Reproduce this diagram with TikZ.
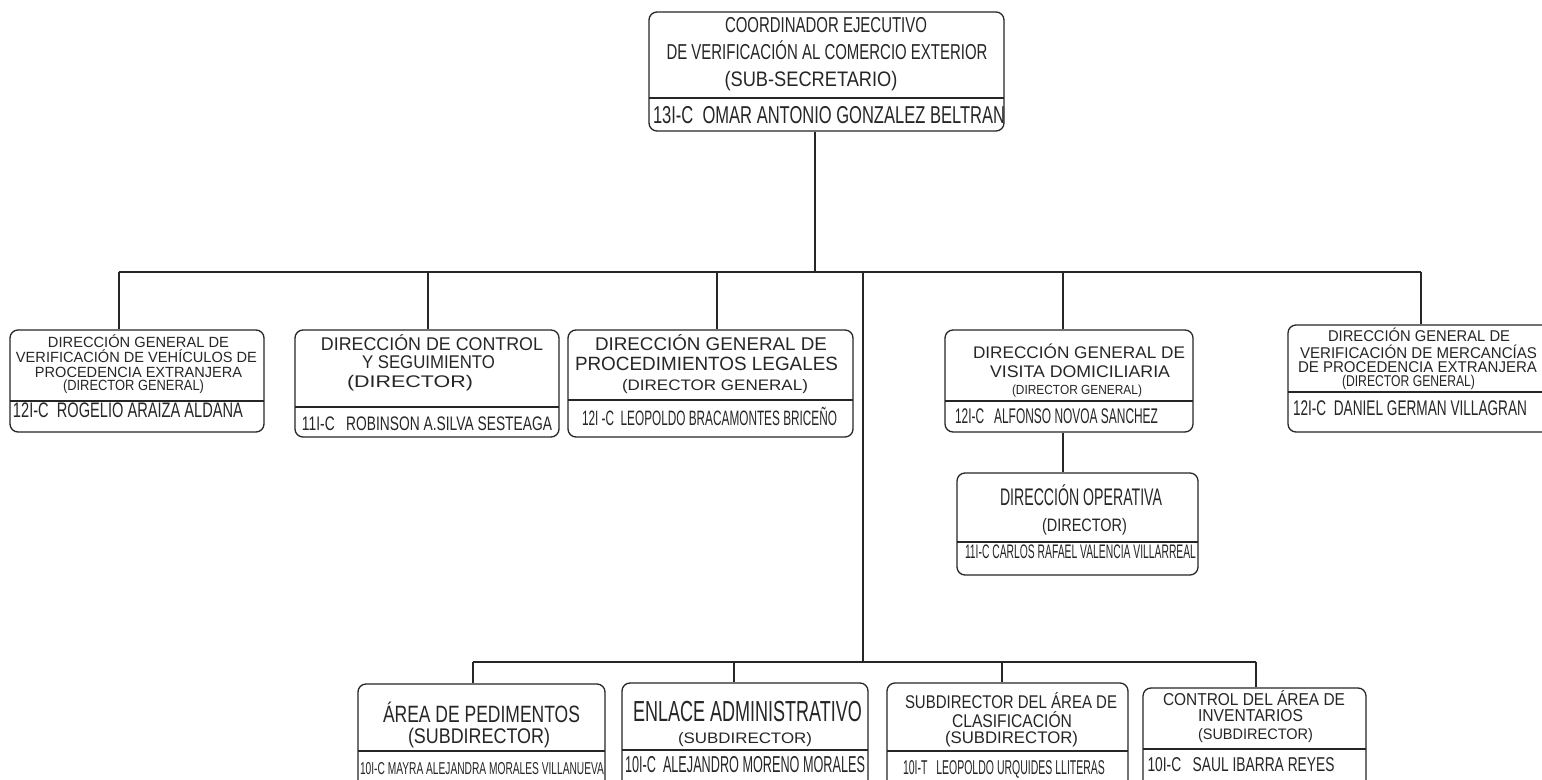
\documentclass[tikz,border=0pt]{standalone}
\usepackage{fontspec}
\setmainfont{Liberation Sans}
\usepackage{graphicx}
\usetikzlibrary{fit}
\newlength\px
\setlength\px{0.5pt}
\tikzset{
  orgbox/.style={draw=black!85, line width=0.65pt, rounded corners=4pt, inner sep=0pt},
  divline/.style={draw=black!85, line width=0.6pt},
  link/.style={draw=black!85, line width=0.6pt},
  txt/.style={anchor=base, inner sep=0pt, text=black!85}
}
% text line: name, cx, baseline, size, width(px), text
\newcommand\tline[6]{\node[txt, font=\fontsize{#4}{#4}\selectfont] (#1) at (#2,#3) {\resizebox{#5\px}{\height}{#6}};}
% box: name, x1, y1, x2, y2, divider y
\newcommand\obox[6]{\node[orgbox, fit={(#2,#3)(#4,#5)}] (#1) {}; \draw[divline] (#2,#6) -- (#4,#6);}
\begin{document}
\begin{tikzpicture}[x=0.5pt,y=-0.5pt]
\useasboundingbox (0,0) rectangle (1542,780);
\fill[white] (0,0) rectangle (1542,780);
\clip (0,0) rectangle (1542,780);

% ---------- boxes ----------
\obox{top}{649}{12}{1004}{131}{98}
\obox{b1}{10}{330}{264}{432}{401}
\obox{b2}{295}{330}{559}{437}{407}
\obox{b3}{568}{330}{853}{437}{400}
\obox{b4}{945}{330}{1193}{432}{401}
\obox{b5}{1288}{325}{1554}{432}{392}
\obox{op}{957}{473}{1198}{575}{542}
\obox{c1}{358}{684}{605}{800}{751}
\obox{c2}{622}{683}{868}{800}{750}
\obox{c3}{887}{683}{1128}{800}{751}
\obox{c4}{1143}{688}{1366}{800}{749}

% ---------- connectors ----------
\coordinate (topdrop) at (815,272);
\coordinate (busL) at (119,272);
\coordinate (busR) at (1421,272);
\coordinate (d2) at (428,272);
\coordinate (d3) at (717,272);
\coordinate (trunk) at (863,272);
\coordinate (d4) at (1063,272);
\coordinate (lowbus) at (863,662);
\coordinate (e1) at (473,662);
\coordinate (e2) at (734,662);
\coordinate (e3) at (1002,662);
\coordinate (e4) at (1256,662);

\draw[link] (topdrop |- top.south) -- (topdrop);
\draw[link] (busL) -- (busR);
\draw[link] (busL) -- (busL |- b1.north);
\draw[link] (d2) -- (d2 |- b2.north);
\draw[link] (d3) -- (d3 |- b3.north);
\draw[link] (d4) -- (d4 |- b4.north);
\draw[link] (busR) -- (busR |- b5.north);
\draw[link] (d4 |- b4.south) -- (d4 |- op.north);
\draw[link] (trunk) -- (lowbus);
\draw[link] (e1) -- (e4);
\draw[link] (e1) -- (e1 |- c1.north);
\draw[link] (e2) -- (e2 |- c2.north);
\draw[link] (e3) -- (e3 |- c3.north);
\draw[link] (e4) -- (e4 |- c4.north);

% ---------- texts ----------
\tline{ta}{826}{33}{10.8}{202}{COORDINADOR EJECUTIVO}
\tline{tb}{827}{60}{10.8}{321}{DE VERIFICACIÓN AL COMERCIO EXTERIOR}
\tline{tc}{811}{87}{10.5}{173}{(SUB-SECRETARIO)}
\tline{td}{829}{124}{12.2}{352}{13I-C\ \ OMAR ANTONIO GONZALEZ BELTRAN}

\tline{b1a}{138.5}{348}{7.4}{181}{DIRECCIÓN GENERAL DE}
\tline{b1b}{136.5}{363}{7.4}{241}{VERIFICACIÓN DE VEHÍCULOS DE}
\tline{b1c}{138.5}{378}{7.4}{207}{PROCEDENCIA EXTRANJERA}
\tline{b1d}{133.5}{391}{7.4}{141}{(DIRECTOR GENERAL)}
\tline{b1e}{128}{418}{10.5}{230}{12I-C\ \ ROGELIO ARAIZA ALDANA}

\tline{b2a}{432}{351}{9.2}{222}{DIRECCIÓN DE CONTROL}
\tline{b2b}{428.5}{369}{9.2}{133}{Y SEGUIMIENTO}
\tline{b2c}{410}{387}{8.4}{126}{(DIRECTOR)}
\tline{b2d}{427}{430}{9.8}{250}{11I-C\ \ \ ROBINSON A.SILVA SESTEAGA}

\tline{b3a}{711}{351}{9.2}{232}{DIRECCIÓN GENERAL DE}
\tline{b3b}{706.5}{371}{9.6}{263}{PROCEDIMIENTOS LEGALES}
\tline{b3c}{715}{391}{7.6}{186}{(DIRECTOR GENERAL)}
\tline{b3d}{709.5}{426}{10.4}{255}{12I -C\ \ LEOPOLDO BRACAMONTES BRICEÑO}

\tline{b4a}{1079}{359}{8.4}{212}{DIRECCIÓN GENERAL DE}
\tline{b4b}{1080}{378}{8.4}{180}{VISITA DOMICILIARIA}
\tline{b4c}{1077}{395}{6.6}{130}{(DIRECTOR GENERAL)}
\tline{b4d}{1056.5}{423}{10.6}{203}{12I-C\ \ \ ALFONSO NOVOA SANCHEZ}

\tline{b5a}{1419}{342}{7.8}{182}{DIRECCIÓN GENERAL DE}
\tline{b5b}{1418.5}{358}{7.8}{237}{VERIFICACIÓN DE MERCANCÍAS}
\tline{b5c}{1417.5}{373}{7.8}{239}{DE PROCEDENCIA EXTRANJERA}
\tline{b5d}{1408.5}{387}{7.8}{133}{(DIRECTOR GENERAL)}
\tline{b5e}{1410}{416}{10.6}{234}{12I-C\ \ DANIEL GERMAN VILLAGRAN}

\tline{opa}{1081}{505}{12}{162}{DIRECCIÓN OPERATIVA}
\tline{opb}{1084.5}{531}{9}{85}{(DIRECTOR)}
\tline{opc}{1080.5}{558}{9.8}{231}{11I-C CARLOS RAFAEL VALENCIA VILLARREAL}

\tline{c1a}{481.5}{722}{11.8}{197}{ÁREA DE PEDIMENTOS}
\tline{c1b}{479}{743}{10.6}{142}{(SUBDIRECTOR)}
\tline{c1c}{482}{774}{8.6}{244}{10I-C MAYRA ALEJANDRA MORALES VILLANUEVA}

\tline{c2a}{747.5}{721}{14.5}{229}{ENLACE ADMINISTRATIVO}
\tline{c2b}{745}{743}{7.6}{134}{(SUBDIRECTOR)}
\tline{c2c}{745}{772}{11.5}{240}{10I-C\ \ ALEJANDRO MORENO MORALES}

\tline{c3a}{1011}{708}{9.2}{212}{SUBDIRECTOR DEL ÁREA DE}
\tline{c3b}{1012}{727}{9.2}{120}{CLASIFICACIÓN}
\tline{c3c}{1011.5}{743}{8.4}{133}{(SUBDIRECTOR)}
\tline{c3d}{1004}{774}{10}{202}{10I-T\ \ \ LEOPOLDO URQUIDES LLITERAS}

\tline{c4a}{1254}{705}{8.6}{182}{CONTROL DEL ÁREA DE}
\tline{c4b}{1250.5}{721}{8.6}{105}{INVENTARIOS}
\tline{c4c}{1255.5}{739}{7.6}{115}{(SUBDIRECTOR)}
\tline{c4d}{1241}{771}{10}{187}{10I-C\ \ \ SAUL IBARRA REYES}
\end{tikzpicture}
\end{document}
